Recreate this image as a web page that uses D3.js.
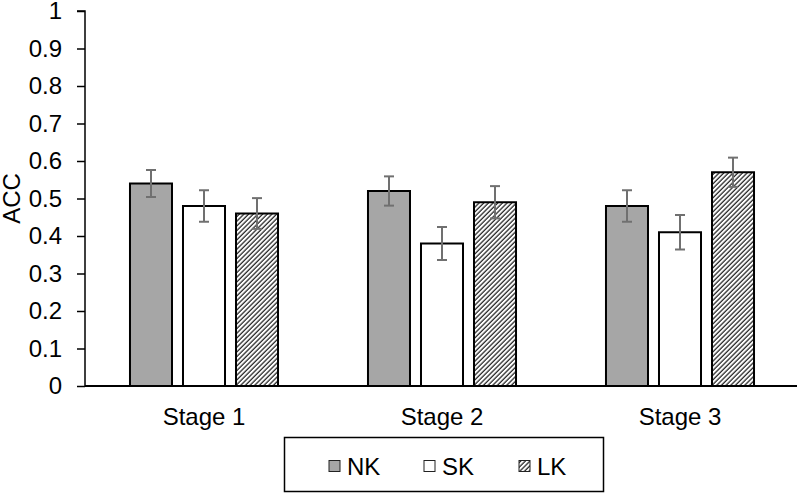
<!DOCTYPE html>
<html>
<head>
<meta charset="utf-8">
<script src="https://cdn.jsdelivr.net/npm/d3@7"></script>
<style>
  body { margin: 0; background: #fff; }
  svg { display: block; font-family: "Liberation Sans", Arial, sans-serif; }
</style>
</head>
<body>
<div class="chart"></div>
<script>
// ---------------------------------------- data ----------------------------------------
const stages = ["Stage 1", "Stage 2", "Stage 3"];
const series = ["NK", "SK", "LK"];
const nkValues = [0.54, 0.52, 0.48];
const skValues = [0.48, 0.38, 0.41];
const lkValues = [0.46, 0.49, 0.57];
const nkErrors = [0.036, 0.039, 0.042];
const skErrors = [0.042, 0.044, 0.046];
const lkErrors = [0.041, 0.043, 0.039];
const yTicks = [0, 0.1, 0.2, 0.3, 0.4, 0.5, 0.6, 0.7, 0.8, 0.9, 1];

const values = { NK: nkValues, SK: skValues, LK: lkValues };
const errors = { NK: nkErrors, SK: skErrors, LK: lkErrors };

// ---------------------------------------- chart ----------------------------------------
const W = 797, H = 494;
const plotLeft = 85, plotRight = 799, plotTop = 11, plotBottom = 386;
const fontSize = "24px";

const svg = d3.select(".chart")
    .append("svg")
    .attr("width", W)
    .attr("height", H);

// hatch pattern for LK
svg.append("defs")
    .append("pattern")
    .attr("id", "hatch")
    .attr("patternUnits", "userSpaceOnUse")
    .attr("width", 3.3)
    .attr("height", 10)
    .attr("patternTransform", "rotate(45)")
    .call(p => {
        p.append("rect").attr("width", 3.3).attr("height", 10).attr("fill", "#fff");
        p.append("line").attr("x1", 1).attr("x2", 1).attr("y1", 0).attr("y2", 10)
            .attr("stroke", "#222").attr("stroke-width", 1.25);
    });

const fills = { NK: "#a6a6a6", SK: "#ffffff", LK: "url(#hatch)" };

const x0 = d3.scaleBand().domain(stages).range([plotLeft, plotRight])
    .paddingInner(0.378).paddingOuter(0.189);
const x1 = d3.scaleBand().domain(series).range([0, x0.bandwidth()])
    .paddingInner(0.2075);
const y = d3.scaleLinear().domain([0, 1]).range([plotBottom, plotTop]);

// y axis
const yAxis = d3.axisLeft(y)
    .tickValues(yTicks)
    .tickSize(8)
    .tickPadding(15)
    .tickFormat(d => d === 0 || d === 1 ? String(d) : d.toFixed(1));

svg.append("g")
    .attr("transform", "translate(" + plotLeft + ",0)")
    .call(yAxis)
    .call(g => g.selectAll("path, line").attr("stroke", "#000").attr("stroke-width", 1.5))
    .call(g => g.select(".domain").attr("d", "M-8," + plotTop + "H0V" + plotBottom))
    .call(g => g.selectAll("text").attr("font-size", fontSize).attr("fill", "#000")
        .attr("font-family", "Liberation Sans, Arial, sans-serif"));

// y label
svg.append("text")
    .attr("transform", "translate(20," + (y(0.5)) + ") rotate(-90)")
    .attr("text-anchor", "middle")
    .attr("font-size", fontSize)
    .text("ACC");

// bars
const groups = svg.selectAll(".stage")
    .data(stages)
    .join("g")
    .attr("class", "stage")
    .attr("transform", d => "translate(" + x0(d) + ",0)");

groups.selectAll("rect")
    .data((d, i) => series.map(s => ({ s, v: values[s][i], e: errors[s][i] })))
    .join("rect")
    .attr("x", d => x1(d.s))
    .attr("y", d => y(d.v))
    .attr("width", x1.bandwidth())
    .attr("height", d => y(0) - y(d.v))
    .attr("fill", d => fills[d.s])
    .attr("stroke", "#000")
    .attr("stroke-width", 2);

// error bars
const err = groups.selectAll(".err")
    .data((d, i) => series.map(s => ({ s, v: values[s][i], e: errors[s][i] })))
    .join("g")
    .attr("class", "err")
    .attr("stroke", "#707070")
    .attr("stroke-width", 2);

err.append("line")
    .attr("x1", d => x1(d.s) + x1.bandwidth() / 2)
    .attr("x2", d => x1(d.s) + x1.bandwidth() / 2)
    .attr("y1", d => y(d.v + d.e))
    .attr("y2", d => y(d.v - d.e));
err.append("line")
    .attr("x1", d => x1(d.s) + x1.bandwidth() / 2 - 5)
    .attr("x2", d => x1(d.s) + x1.bandwidth() / 2 + 5)
    .attr("y1", d => y(d.v + d.e))
    .attr("y2", d => y(d.v + d.e));
err.append("line")
    .attr("x1", d => x1(d.s) + x1.bandwidth() / 2 - 5)
    .attr("x2", d => x1(d.s) + x1.bandwidth() / 2 + 5)
    .attr("y1", d => y(d.v - d.e))
    .attr("y2", d => y(d.v - d.e));

// x axis
const xAxis = d3.axisBottom(x0).tickSize(0).tickPadding(22);
svg.append("g")
    .attr("transform", "translate(0," + plotBottom + ")")
    .call(xAxis)
    .call(g => g.select(".domain").attr("stroke", "#000").attr("stroke-width", 1.8)
        .attr("d", "M" + plotLeft + ",0H" + W))
    .call(g => g.selectAll("text").attr("font-size", fontSize).attr("fill", "#000")
        .attr("font-family", "Liberation Sans, Arial, sans-serif"));

// legend
const legend = svg.append("g");
legend.append("rect")
    .attr("x", 284.5).attr("y", 437.5)
    .attr("width", 319).attr("height", 54)
    .attr("fill", "#fff").attr("stroke", "#000").attr("stroke-width", 1.5);

const item = legend.selectAll(".item")
    .data(series)
    .join("g")
    .attr("class", "item")
    .attr("transform", (d, i) => "translate(" + (329 + i * 95) + ",466)");

item.append("rect")
    .attr("x", 0).attr("y", -5.5)
    .attr("width", 11).attr("height", 11)
    .attr("fill", d => fills[d])
    .attr("stroke", "#222").attr("stroke-width", 1);

item.append("text")
    .attr("x", 18).attr("dy", "0.36em")
    .attr("font-size", fontSize)
    .text(d => d);
</script>
</body>
</html>
